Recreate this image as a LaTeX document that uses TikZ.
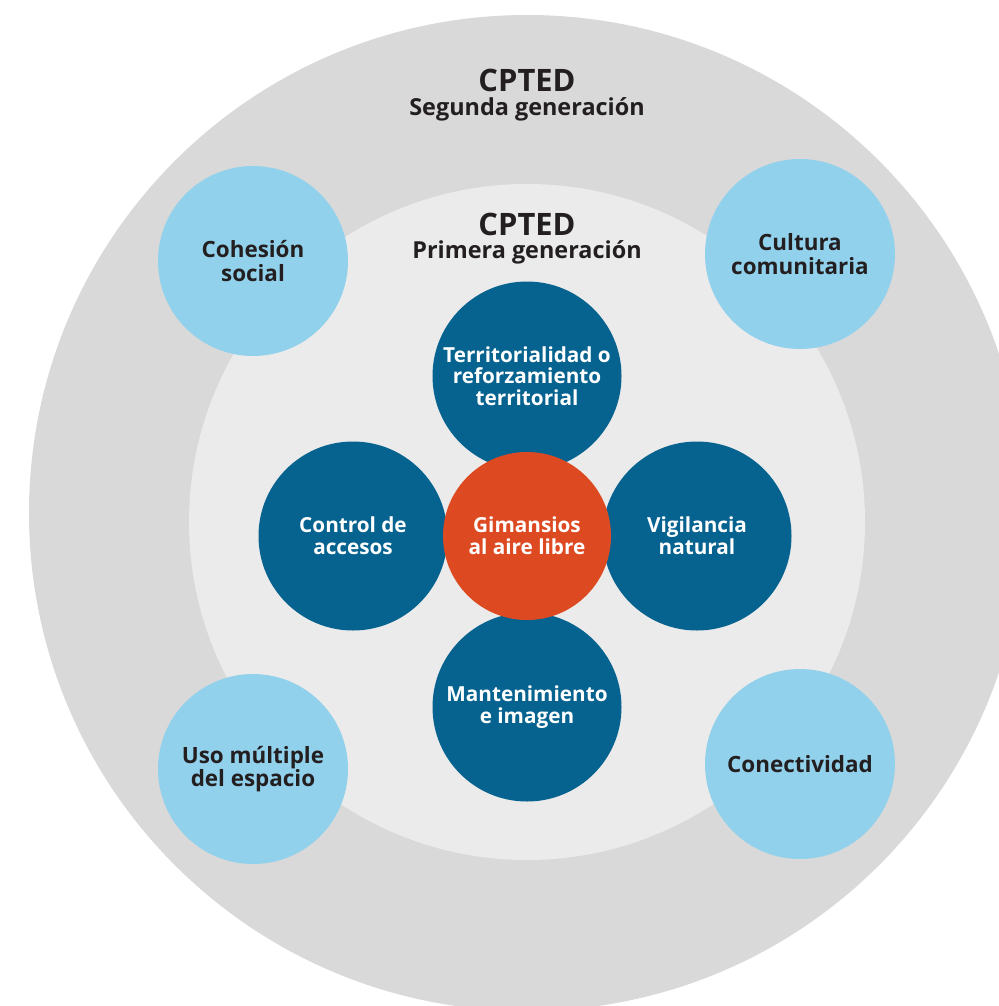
\documentclass[tikz,border=0pt]{standalone}
\usepackage{fontspec}
\setmainfont{Open Sans}
\usetikzlibrary{positioning}
\definecolor{ringouter}{HTML}{D9D9D9}
\definecolor{ringinner}{HTML}{EBEBEB}
\definecolor{secondgen}{HTML}{92D1EC}
\definecolor{firstgen}{HTML}{06628F}
\definecolor{gymcore}{HTML}{DD4A22}
\definecolor{labeldark}{HTML}{231F20}

\begin{document}
\begin{tikzpicture}[
    x=1bp,
    y=-1bp,
    ring/.style={
        circle,
        inner sep=0pt
    },
    heading/.style={
        anchor=base,
        font=\fontsize{31}{33}\selectfont\bfseries,
        text=labeldark
    },
    subheading/.style={
        anchor=base,
        font=\fontsize{23.5}{25}\selectfont\bfseries,
        text=labeldark
    },
    social/.style={
        circle,
        minimum size=190bp,
        inner sep=0pt,
        align=center,
        font=\fontsize{22.5}{23.5}\selectfont\bfseries,
        text=labeldark,
        fill=secondgen
    },
    physical/.style={
        circle,
        minimum size=189bp,
        inner sep=0pt,
        align=center,
        font=\fontsize{20.8}{21.8}\selectfont\bfseries,
        text=white,
        fill=firstgen
    },
    core/.style={
        circle,
        minimum size=168bp,
        inner sep=0pt,
        align=center,
        font=\fontsize{20.8}{21.8}\selectfont\bfseries,
        text=white,
        fill=gymcore
    }
]
\useasboundingbox (0,0) rectangle (999,1006);
\clip (0,0) rectangle (999,1006);

% Rings
\node[ring, fill=ringouter, minimum size=996bp] (outer) at (527,513) {};
\node[ring, fill=ringinner, minimum size=676bp] (inner) at (527,522) {};

% Headings
\node[heading] (cpted2) at (527,91) {CPTED};
\node[subheading] (gen2) at (527,115) {Segunda generación};
\node[heading] (cpted1) at (527,235) {CPTED};
\node[subheading] (gen1) at (527,258) {Primera generación};

% Second generation
\node[social] (cohesion) at (253,261) {Cohesión\\social};
\node[social] (cultura) at (800,254) {Cultura\\comunitaria};
\node[social] (uso) at (253,769) {Uso múltiple\\del espacio};
\node[social] (conect) at (800,764) {Conectividad};

% First generation
\node[physical] (territorio) at (527,376) {Territorialidad o\\reforzamiento\\territorial};
\node[physical] (control) at (353,536) {Control de\\accesos};
\node[physical] (vigilancia) at (697,536) {Vigilancia\\natural};
\node[physical] (mantenim) at (527,707) {Mantenimiento\\e imagen};

% Center: gimnasios
\node[core] (gimnasios) at (527,536) {Gimansios\\al aire libre};

\end{tikzpicture}
\end{document}
